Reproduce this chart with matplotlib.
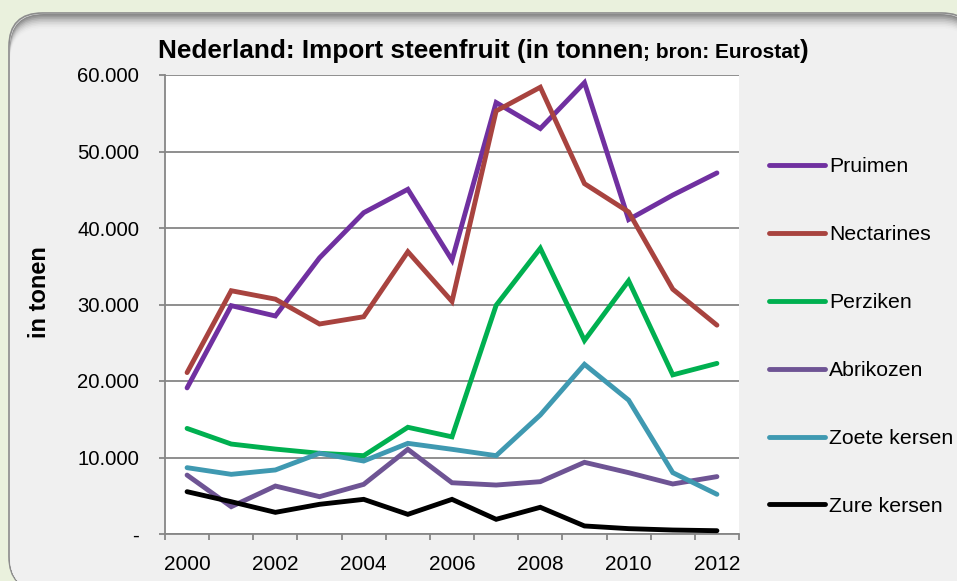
import matplotlib
matplotlib.use("Agg")
import matplotlib.pyplot as plt
from matplotlib.patches import FancyBboxPatch
from matplotlib.ticker import FuncFormatter, FixedLocator

plt.rcParams['font.family'] = ['Liberation Sans', 'DejaVu Sans']

years = list(range(2000, 2013))
series_names = ["Pruimen", "Nectarines", "Perziken", "Abrikozen", "Zoete kersen", "Zure kersen"]
pruimen = [19100, 29850, 28500, 36100, 42000, 45060, 35800, 56400, 53000, 59000, 41100, 44300, 47200]
nectarines = [21100, 31800, 30700, 27450, 28400, 36900, 30400, 55300, 58400, 45800, 42100, 32000, 27300]
perziken = [13800, 11760, 11100, 10550, 10240, 13950, 12700, 29900, 37350, 25300, 33100, 20800, 22300]
abrikozen = [7700, 3570, 6270, 4880, 6490, 11070, 6700, 6400, 6840, 9370, 8020, 6540, 7500]
zoete_kersen = [8670, 7800, 8370, 10550, 9540, 11850, 11070, 10240, 15560, 22180, 17500, 8020, 5190]
zure_kersen = [5530, 4220, 2830, 3880, 4530, 2570, 4530, 1920, 3490, 1050, 700, 520, 430]
colors = ["#7030A0", "#A8433F", "#00B050", "#6E5494", "#3F99B1", "#000000"]

W, H = 957, 581
fig = plt.figure(figsize=(W / 100, H / 100), dpi=100)
fig.patch.set_facecolor("#EAF1DD")

# rounded panel with a soft shadow along the top
def px_box(x0, y0, x1, y1, fc, ec="none", lw=0):
    return FancyBboxPatch((x0 / W, 1 - y1 / H), (x1 - x0) / W, (y1 - y0) / H,
                          boxstyle="round,pad=0,rounding_size=0.035",
                          transform=fig.transFigure, facecolor=fc, edgecolor=ec,
                          linewidth=lw, mutation_aspect=W / H, zorder=0)

fig.add_artist(px_box(9, 13, 975, 590, "#F0F0F0", "#8C8C8C", 1.2))
shades = ["#8A8A8A", "#9A9A9A", "#ABABAB", "#BCBCBC", "#CACACA", "#D6D6D6", "#E0E0E0", "#E8E8E8", "#EDEDED"]
for i, c in enumerate(shades):
    fig.add_artist(px_box(10, 14 + i * 1.6, 974, 590, c))
fig.add_artist(px_box(10, 14 + len(shades) * 1.6, 974, 590, "#F0F0F0"))

ax = fig.add_axes([165 / W, 1 - 534 / H, (739 - 165) / W, (534 - 75) / H])
ax.set_facecolor("white")

x = list(range(len(years)))
for name, vals, c in zip(series_names,
                         [pruimen, nectarines, perziken, abrikozen, zoete_kersen, zure_kersen],
                         colors):
    ax.plot(x, vals, color=c, lw=3.5, label=name, solid_capstyle="round",
            solid_joinstyle="miter", zorder=3)

ax.set_xlim(-0.5, len(years) - 0.5)
ax.set_ylim(0, 60000)
ax.set_yticks(range(0, 60001, 10000))
ax.yaxis.set_major_formatter(FuncFormatter(
    lambda v, p: "-" if v == 0 else f"{int(v):,}".replace(",", ".")))
ax.grid(axis="y", color="#868686", lw=1.3, zorder=1)

ax.xaxis.set_major_locator(FixedLocator(x[::2]))
ax.set_xticklabels([str(y) for y in years[::2]])
ax.xaxis.set_minor_locator(FixedLocator([i - 0.5 for i in range(len(years) + 1)]))
ax.tick_params(axis="x", which="major", length=0, pad=14.8, labelsize=15)
ax.tick_params(axis="x", which="minor", length=4.3, color="#868686", width=1.3)
ax.tick_params(axis="y", length=4.3, color="#868686", width=1.3, labelsize=14.6, pad=14.4)

for s in ["top", "right"]:
    ax.spines[s].set_visible(False)
for s in ["left", "bottom"]:
    ax.spines[s].set_color("#868686")
    ax.spines[s].set_linewidth(1.3)

fig.text(39 / W, 1 - 292 / H, "in tonen", fontsize=17, fontweight="bold",
         rotation=90, ha="center", va="center")

# title in three parts, each placed right after the previous one
fig.canvas.draw()
r = fig.canvas.get_renderer()
tx = 158
for part, size in [("Nederland: Import steenfruit (in tonnen", 18.8),
                   ("; bron: Eurostat", 15), (")", 18.8)]:
    t = fig.text(tx / W, 1 - 58.3 / H, part, fontsize=size, fontweight="bold",
                 va="baseline", ha="left")
    tx = t.get_window_extent(renderer=r).x1

fig.legend(loc="upper left", bbox_to_anchor=(760.5 / W, 1 - 149 / H), frameon=False,
           fontsize=15.3, handlelength=2.64, handletextpad=0.2, labelspacing=2.3,
           borderaxespad=0)

fig.savefig("out.png", dpi=100, facecolor=fig.get_facecolor())
